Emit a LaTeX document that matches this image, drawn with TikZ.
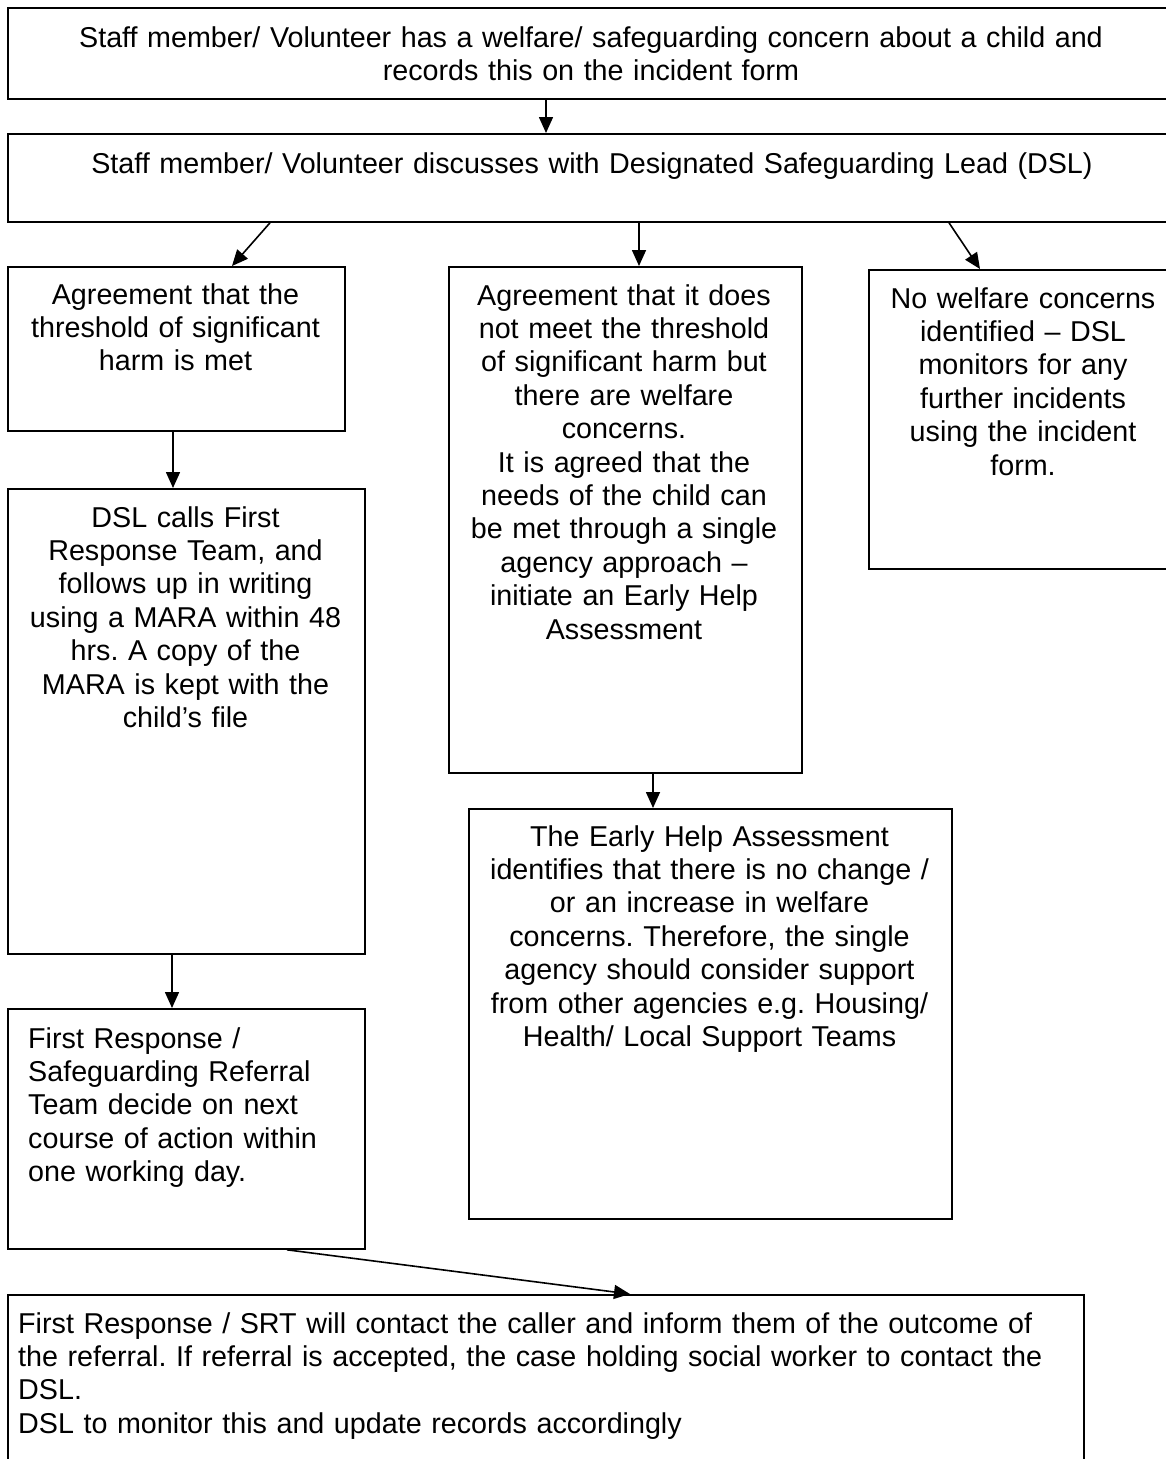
\documentclass[tikz,border=0pt]{standalone}
\usepackage{fontspec}
\setmainfont{Liberation Sans}
\usetikzlibrary{arrows.meta}
\frenchspacing
\tikzset{
  box/.style={draw, line width=1.8pt, anchor=north west, inner sep=0pt},
  txt/.style={inner sep=0pt, font=\fontsize{28.7pt}{33.4pt}\selectfont},
  ctxt/.style={txt, anchor=base, align=center},
  ltxt/.style={txt, anchor=base west, align=left},
  arr/.style={line width=1.6pt, -{Triangle[length=16pt,width=14pt]}}
}
\begin{document}
\begin{tikzpicture}[x=1pt,y=-1pt]
\useasboundingbox (0,0) rectangle (1166,1459);
\clip (0,0) rectangle (1166,1459);
\fill[white] (0,0) rectangle (1166,1459);
% boxes
\node[box, minimum width=1173pt, minimum height=91pt] (b1) at (7,7) {};
\node[box, minimum width=1173pt, minimum height=88pt] (b2) at (7,133) {};
\node[box, minimum width=337pt, minimum height=164pt] (bl) at (7,266) {};
\node[box, minimum width=353pt, minimum height=506pt] (bm) at (448,266) {};
\node[box, minimum width=312pt, minimum height=299pt] (br) at (868,269) {};
\node[box, minimum width=357pt, minimum height=465pt] (bd) at (7,488) {};
\node[box, minimum width=483pt, minimum height=410pt] (be) at (468,808) {};
\node[box, minimum width=357pt, minimum height=240pt] (bf) at (7,1008) {};
\node[box, minimum width=1076pt, minimum height=200pt] (bb) at (7,1294) {};
% texts
\node[ctxt, text width=1150pt] (t1) at (591,47) {Staff member/ Volunteer has a welfare/ safeguarding concern about a child and\\records this on the incident form};
\node[ctxt, text width=1150pt] (t2) at (592,173) {Staff member/ Volunteer discusses with Designated Safeguarding Lead (DSL)};
\node[ctxt, text width=335pt] (tl) at (175.5,304) {Agreement that the\\threshold of significant\\harm is met};
\node[ctxt, text width=350pt] (tm) at (624,305) {Agreement that it does\\not meet the threshold\\of significant harm but\\there are welfare\\concerns.\\It is agreed that the\\needs of the child can\\be met through a single\\agency approach –\\initiate an Early Help\\Assessment};
\node[ctxt, text width=305pt] (tr) at (1023,308) {No welfare concerns\\identified – DSL\\monitors for any\\further incidents\\using the incident\\form.};
\node[ctxt, text width=355pt] (td) at (185.5,527) {DSL calls First\\Response Team, and\\follows up in writing\\using a MARA within 48\\hrs. A copy of the\\MARA is kept with the\\child’s file};
\node[ctxt, text width=480pt] (te) at (709.5,846) {The Early Help Assessment\\identifies that there is no change /\\or an increase in welfare\\concerns. Therefore, the single\\agency should consider support\\from other agencies e.g. Housing/\\Health/ Local Support Teams};
\node[ltxt, text width=335pt] (tf) at (28,1048) {First Response /\\Safeguarding Referral\\Team decide on next\\course of action within\\one working day.};
\node[ltxt, text width=1060pt] (tb) at (18,1333) {First Response / SRT will contact the caller and inform them of the outcome of\\the referral. If referral is accepted, the case holding social worker to contact the\\DSL.\\DSL to monitor this and update records accordingly};
% arrows
\draw[arr] ([xshift=539pt]b1.south west) -- ([xshift=539pt]b2.north west);
\draw[arr] ([xshift=263pt]b2.south west) -- ([xshift=225pt]bl.north west);
\draw[arr] ([xshift=632pt]b2.south west) -- ([xshift=191pt]bm.north west);
\draw[arr] ([xshift=942pt]b2.south west) -- ([xshift=112pt]br.north west);
\draw[arr] ([xshift=166pt]bl.south west) -- ([xshift=166pt]bd.north west);
\draw[arr] ([xshift=205pt]bm.south west) -- ([xshift=185pt]be.north west);
\draw[arr] ([xshift=165pt]bd.south west) -- ([xshift=165pt]bf.north west);
\draw[arr] ([xshift=280pt]bf.south west) -- ([xshift=623pt]bb.north west);
\end{tikzpicture}
\end{document}
